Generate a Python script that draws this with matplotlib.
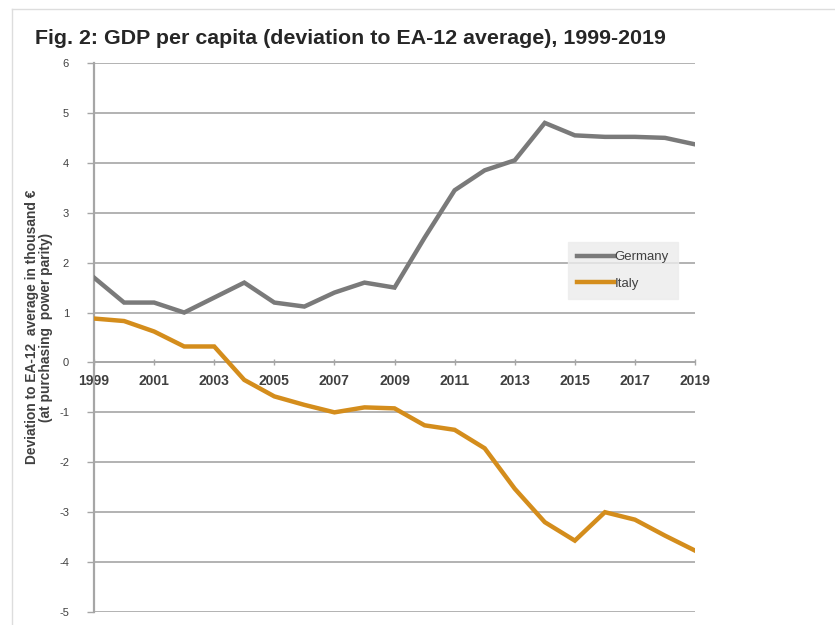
import numpy as np
import matplotlib
matplotlib.use('Agg')
import matplotlib.pyplot as plt

matplotlib.rcParams['font.family'] = 'Liberation Sans'
matplotlib.rcParams['axes.unicode_minus'] = False

years = list(range(1999, 2020))
germany = [1.70, 1.20, 1.20, 1.00, 1.30, 1.60, 1.20, 1.12, 1.40, 1.60, 1.50,
           2.50, 3.45, 3.85, 4.05, 4.80, 4.55, 4.52, 4.52, 4.50, 4.37]
italy = [0.88, 0.83, 0.62, 0.32, 0.32, -0.35, -0.68, -0.85, -1.00, -0.90, -0.92,
         -1.26, -1.35, -1.72, -2.53, -3.20, -3.57, -3.00, -3.15, -3.47, -3.77]
xtick_years = list(range(1999, 2020, 2))
yticks = list(range(-5, 7))

grey_line = '#7a7a7a'
orange_line = '#d48d1c'
grid_color = '#a6a6a6'
text_color = '#404040'

fig = plt.figure(figsize=(8.35, 6.25), dpi=100)
ax = fig.add_axes([0.1126, 0.0208, 0.7198, 0.8784])

for y in yticks:
  ax.axhline(y, color=grid_color, lw=1.2, zorder=1)

ax.plot(years, germany, color=grey_line, lw=3.2, label='Germany', zorder=3, solid_joinstyle='miter')
ax.plot(years, italy, color=orange_line, lw=3.2, label='Italy', zorder=3, solid_joinstyle='miter')

ax.set_xlim(1999, 2019)
ax.set_ylim(-5, 6)
ax.set_yticks(yticks)
ax.set_xticks(xtick_years)
ax.set_xticklabels([str(y) for y in xtick_years])

for sp in ['top', 'right']:
  ax.spines[sp].set_visible(False)
ax.spines['bottom'].set_position(('data', 0))
ax.spines['bottom'].set_color(grid_color)
ax.spines['bottom'].set_linewidth(1.2)
ax.spines['left'].set_color(grid_color)
ax.spines['left'].set_linewidth(1.6)

ax.tick_params(axis='y', direction='out', length=5, width=1, color=grid_color,
               labelcolor=text_color, labelsize=8, pad=13)
ax.tick_params(axis='x', direction='inout', length=5, width=1, color=grid_color,
               labelcolor=text_color, labelsize=10, pad=6)
for lab in ax.get_xticklabels():
  lab.set_fontweight('bold')

ax.set_ylabel('Deviation to EA-12  average in thousand €\n(at purchasing  power parity)',
              fontsize=9.9, fontweight='bold', color=text_color, linespacing=1.0)
ax.yaxis.set_label_coords(-0.069, 0.519)

leg = ax.legend(loc='upper left', bbox_to_anchor=(0.789, 0.674), frameon=True, fontsize=9.5,
                handlelength=2.8, handletextpad=0.0, borderpad=0.7, labelspacing=1.05,
                fancybox=False, borderaxespad=0)
leg.get_frame().set_facecolor('#ececec')
leg.get_frame().set_edgecolor('#ececec')
for text in leg.get_texts():
  text.set_color(text_color)

fig.text(0.042, 0.9296, 'Fig. 2: GDP per capita (deviation to EA-12 average), 1999-2019',
         fontsize=15.4, fontweight='bold', color='#262626', va='baseline')

# thin frame like the screenshot border
fig.add_artist(plt.Line2D([0.014, 1.0], [0.985, 0.985], color='#dddddd', lw=1))
fig.add_artist(plt.Line2D([0.014, 0.014], [0.0, 0.985], color='#dddddd', lw=1))

fig.savefig('out.png', dpi=100)
